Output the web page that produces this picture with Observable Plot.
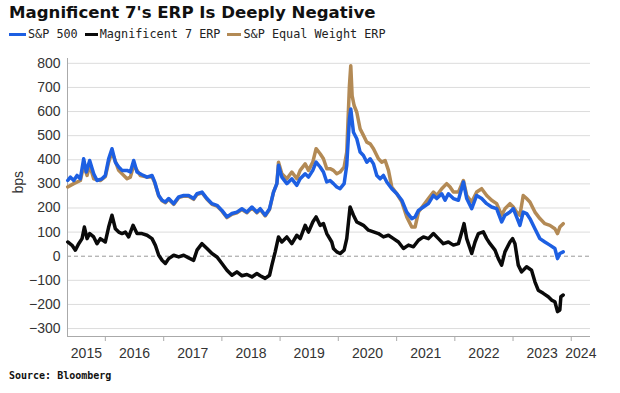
<!DOCTYPE html>
<html>
<head>
<meta charset="utf-8">
<script src="https://cdn.jsdelivr.net/npm/d3@7"></script>
<script src="https://cdn.jsdelivr.net/npm/@observablehq/plot@0.6"></script>
<style>
  html, body { margin: 0; padding: 0; background: #fff; }
  #wrap { position: relative; width: 620px; height: 393px; overflow: hidden; background: #fff; }
  #title { position: absolute; left: 9px; top: 3px; font-family: "DejaVu Sans", sans-serif; font-weight: bold; font-size: 16.6px; color: #111; white-space: nowrap; }
  #legend { position: absolute; left: 9px; top: 27px; font-family: "DejaVu Sans Mono", monospace; font-size: 11.8px; color: #222; display: flex; align-items: center; white-space: nowrap; }
  #legend .sw { display: inline-block; height: 3px; margin-right: 2px; }
  #legend .it { display: flex; align-items: center; margin-right: 7px; }
  #chart { position: absolute; left: 0; top: 48px; }
  #source { position: absolute; left: 9px; top: 370px; font-family: "DejaVu Sans Mono", monospace; font-weight: bold; font-size: 10px; color: #111; }
</style>
</head>
<body>
<div id="wrap">
  <div id="title"></div>
  <div id="legend"></div>
  <div id="chart"></div>
  <div id="source"></div>
</div>
<script>
// ---- Data (decimal years, values in bps) ----
const titleText = "Magnificent 7's ERP Is Deeply Negative";
const sourceText = "Source: Bloomberg";
const seriesNames = ["S&P 500", "Magnificent 7 ERP", "S&P Equal Weight ERP"];
const seriesColors = ["#1d5fe2", "#0a0a0a", "#b38a55"];
const yearLabels = ["2015","2016","2017","2018","2019","2020","2021","2022","2023","2024"];
const yTicks = [-300,-200,-100,0,100,200,300,400,500,600,700,800];
const xDomainYears = [2015.35, 2024.33];
const yDomain = [-333, 820];

const mag7Dates = [2015.354,2015.428,2015.485,2015.543,2015.600,2015.640,2015.686,2015.731,2015.800,2015.857,2015.914,2016.000,2016.057,2016.114,2016.172,2016.229,2016.286,2016.343,2016.400,2016.475,2016.543,2016.629,2016.715,2016.800,2016.858,2016.915,2016.972,2017.029,2017.086,2017.172,2017.258,2017.344,2017.429,2017.515,2017.572,2017.658,2017.744,2017.830,2017.915,2018.001,2018.087,2018.173,2018.258,2018.344,2018.430,2018.516,2018.601,2018.659,2018.744,2018.819,2018.859,2018.916,2018.973,2019.030,2019.116,2019.202,2019.288,2019.345,2019.431,2019.488,2019.562,2019.619,2019.688,2019.745,2019.802,2019.888,2019.917,2019.974,2020.031,2020.100,2020.145,2020.202,2020.260,2020.317,2020.374,2020.431,2020.517,2020.603,2020.688,2020.774,2020.860,2020.946,2021.031,2021.117,2021.203,2021.289,2021.375,2021.460,2021.546,2021.632,2021.718,2021.803,2021.889,2021.975,2022.061,2022.135,2022.158,2022.204,2022.290,2022.347,2022.404,2022.489,2022.547,2022.604,2022.690,2022.747,2022.804,2022.861,2022.947,2022.993,2023.033,2023.090,2023.147,2023.233,2023.318,2023.376,2023.433,2023.519,2023.605,2023.662,2023.719,2023.764,2023.804,2023.822,2023.862];
const mag7Values = [59,45,25,52,73,121,73,94,80,52,73,59,121,170,114,100,94,100,80,128,94,94,87,73,45,4,-17,-30,-10,4,-3,4,-7,-17,25,52,32,11,-3,-30,-58,-79,-65,-81,-76,-86,-72,-81,-92,-79,-37,18,80,59,80,52,87,73,128,100,142,163,128,135,94,59,32,18,11,25,73,204,170,142,135,128,108,101,94,80,87,73,59,32,46,39,66,80,73,94,73,52,59,46,52,114,135,73,11,59,94,101,73,52,25,-10,-37,18,59,73,52,-37,-65,-44,-58,-106,-141,-154,-168,-182,-189,-230,-223,-168,-161];

const spxDates = [2015.354,2015.400,2015.457,2015.514,2015.571,2015.628,2015.674,2015.731,2015.800,2015.857,2015.943,2016.000,2016.057,2016.114,2016.172,2016.229,2016.286,2016.372,2016.429,2016.486,2016.543,2016.629,2016.715,2016.800,2016.846,2016.915,2016.972,2017.029,2017.086,2017.172,2017.258,2017.344,2017.429,2017.515,2017.572,2017.658,2017.744,2017.830,2017.915,2018.001,2018.087,2018.173,2018.258,2018.344,2018.430,2018.516,2018.601,2018.659,2018.744,2018.819,2018.887,2018.945,2018.973,2019.030,2019.116,2019.202,2019.288,2019.345,2019.431,2019.488,2019.562,2019.619,2019.688,2019.745,2019.802,2019.859,2019.917,2019.974,2020.031,2020.100,2020.145,2020.191,2020.214,2020.260,2020.317,2020.374,2020.431,2020.489,2020.546,2020.603,2020.660,2020.717,2020.774,2020.831,2020.917,2021.003,2021.089,2021.174,2021.260,2021.317,2021.375,2021.460,2021.546,2021.632,2021.689,2021.775,2021.832,2021.889,2021.975,2022.061,2022.147,2022.204,2022.290,2022.375,2022.461,2022.547,2022.632,2022.718,2022.804,2022.861,2022.947,2023.004,2023.061,2023.118,2023.175,2023.233,2023.290,2023.376,2023.461,2023.547,2023.633,2023.719,2023.764,2023.804,2023.862];
const spxValues = [314,328,314,335,321,404,349,397,342,314,321,335,404,446,390,370,356,356,349,397,349,338,328,335,308,252,232,225,239,218,246,252,252,239,259,266,239,218,211,190,163,177,183,197,183,204,183,197,170,197,266,301,377,328,301,321,294,321,342,328,356,390,370,349,308,314,301,287,280,301,377,570,611,514,487,432,418,390,404,383,335,321,335,308,280,259,232,183,156,163,190,204,218,252,239,259,232,259,239,232,308,239,197,252,239,218,204,197,142,170,183,197,163,128,183,177,156,114,73,59,46,32,-10,11,18];

const eqwDates = [2015.354,2015.457,2015.571,2015.628,2015.686,2015.731,2015.800,2015.914,2016.000,2016.057,2016.114,2016.229,2016.372,2016.429,2016.486,2016.600,2016.715,2016.800,2016.846,2016.915,2016.972,2017.029,2017.086,2017.172,2017.258,2017.344,2017.429,2017.515,2017.572,2017.658,2017.744,2017.830,2017.915,2018.001,2018.087,2018.173,2018.258,2018.344,2018.430,2018.516,2018.601,2018.659,2018.744,2018.819,2018.887,2018.945,2018.973,2019.030,2019.116,2019.202,2019.288,2019.345,2019.431,2019.488,2019.562,2019.619,2019.688,2019.745,2019.802,2019.859,2019.917,2019.974,2020.031,2020.100,2020.145,2020.191,2020.214,2020.237,2020.271,2020.317,2020.374,2020.431,2020.489,2020.546,2020.603,2020.688,2020.746,2020.803,2020.860,2020.917,2021.003,2021.089,2021.174,2021.260,2021.317,2021.375,2021.460,2021.546,2021.632,2021.689,2021.775,2021.860,2021.918,2021.975,2022.061,2022.147,2022.204,2022.290,2022.375,2022.461,2022.547,2022.632,2022.718,2022.804,2022.861,2022.947,2023.004,2023.061,2023.118,2023.175,2023.233,2023.290,2023.376,2023.461,2023.547,2023.633,2023.719,2023.764,2023.804,2023.862];
const eqwValues = [287,301,314,377,335,377,321,314,330,390,432,356,321,328,377,335,328,330,305,250,230,222,236,215,243,249,249,236,256,263,236,215,208,187,160,174,180,194,180,201,180,194,167,194,266,301,390,342,321,349,321,356,383,356,390,446,425,404,363,363,356,342,349,370,432,708,790,666,625,597,528,501,473,466,446,404,390,397,356,287,259,225,163,121,121,183,211,239,266,252,280,301,287,266,266,314,252,225,266,280,252,232,218,170,197,218,204,183,170,252,239,225,183,156,135,128,114,94,121,135];

// ---- helpers ----
function decYear(y) {
  const yr = Math.floor(y);
  const s = Date.UTC(yr, 0, 1), e = Date.UTC(yr + 1, 0, 1);
  return new Date(s + (y - yr) * (e - s));
}
function build(dates, values, name) {
  return dates.map((d, i) => ({date: decYear(d), value: values[i], series: name}));
}
const dataSpx = build(spxDates, spxValues, seriesNames[0]);
const dataMag = build(mag7Dates, mag7Values, seriesNames[1]);
const dataEqw = build(eqwDates, eqwValues, seriesNames[2]);

const xDomain = xDomainYears.map(decYear);
const yearStarts = yearLabels.slice(1).map(y => new Date(Date.UTC(+y, 0, 1)));
const labelPos = yearLabels.map(y => {
  const s = Math.max(+new Date(Date.UTC(+y, 0, 1)), +xDomain[0]);
  const e = Math.min(+new Date(Date.UTC(+y + 1, 0, 1)), +xDomain[1]);
  return {label: y, date: new Date((s + e) / 2)};
});

// ---- title / legend / source ----
document.getElementById("title").textContent = titleText;
document.getElementById("source").textContent = sourceText;
const leg = document.getElementById("legend");
const swW = [17, 13, 14];
seriesNames.forEach((n, i) => {
  const it = document.createElement("span");
  it.className = "it";
  const sw = document.createElement("span");
  sw.className = "sw";
  sw.style.background = seriesColors[i];
  sw.style.width = swW[i] + "px";
  const tx = document.createElement("span");
  tx.textContent = n;
  it.appendChild(sw); it.appendChild(tx);
  leg.appendChild(it);
});

// ---- chart ----
const chart = Plot.plot({
  width: 620,
  height: 315,
  marginLeft: 67,
  marginRight: 30,
  marginTop: 10,
  marginBottom: 27,
  style: {fontFamily: "Liberation Sans, Arial, sans-serif", fontSize: "14px", color: "#333", background: "#fff"},
  x: {type: "utc", domain: xDomain, label: null},
  y: {domain: yDomain, label: null},
  marks: [
    Plot.ruleY(yTicks.filter(d => d !== 0), {stroke: "#dcdcdc", strokeWidth: 1}),
    Plot.ruleY([0], {stroke: "#9a9a9a", strokeWidth: 1, strokeDasharray: "4,3"}),
    Plot.ruleX([xDomain[0]], {stroke: "#aaa"}),
    Plot.ruleY([yDomain[0]], {stroke: "#aaa"}),
    Plot.axisY({ticks: yTicks, tickSize: 0, tickPadding: 7, label: null, fill: "#333", fontSize: 14}),
    Plot.axisX({ticks: yearStarts, tickSize: 5, tickFormat: () => "", label: null, stroke: "#aaa"}),
    Plot.text(labelPos, {x: "date", text: "label", frameAnchor: "bottom", dy: 17, lineAnchor: "middle", fill: "#333", fontSize: 14}),
    Plot.text(["bps"], {frameAnchor: "left", dx: -49, dy: -4, rotate: -90, fill: "#333", fontSize: 14}),
    Plot.line(dataEqw, {x: "date", y: "value", stroke: seriesColors[2], strokeWidth: 3.5, strokeLinejoin: "round"}),
    Plot.line(dataSpx, {x: "date", y: "value", stroke: seriesColors[0], strokeWidth: 3.5, strokeLinejoin: "round"}),
    Plot.line(dataMag, {x: "date", y: "value", stroke: seriesColors[1], strokeWidth: 3.5, strokeLinejoin: "round"})
  ]
});
document.getElementById("chart").appendChild(chart);
</script>
</body>
</html>
